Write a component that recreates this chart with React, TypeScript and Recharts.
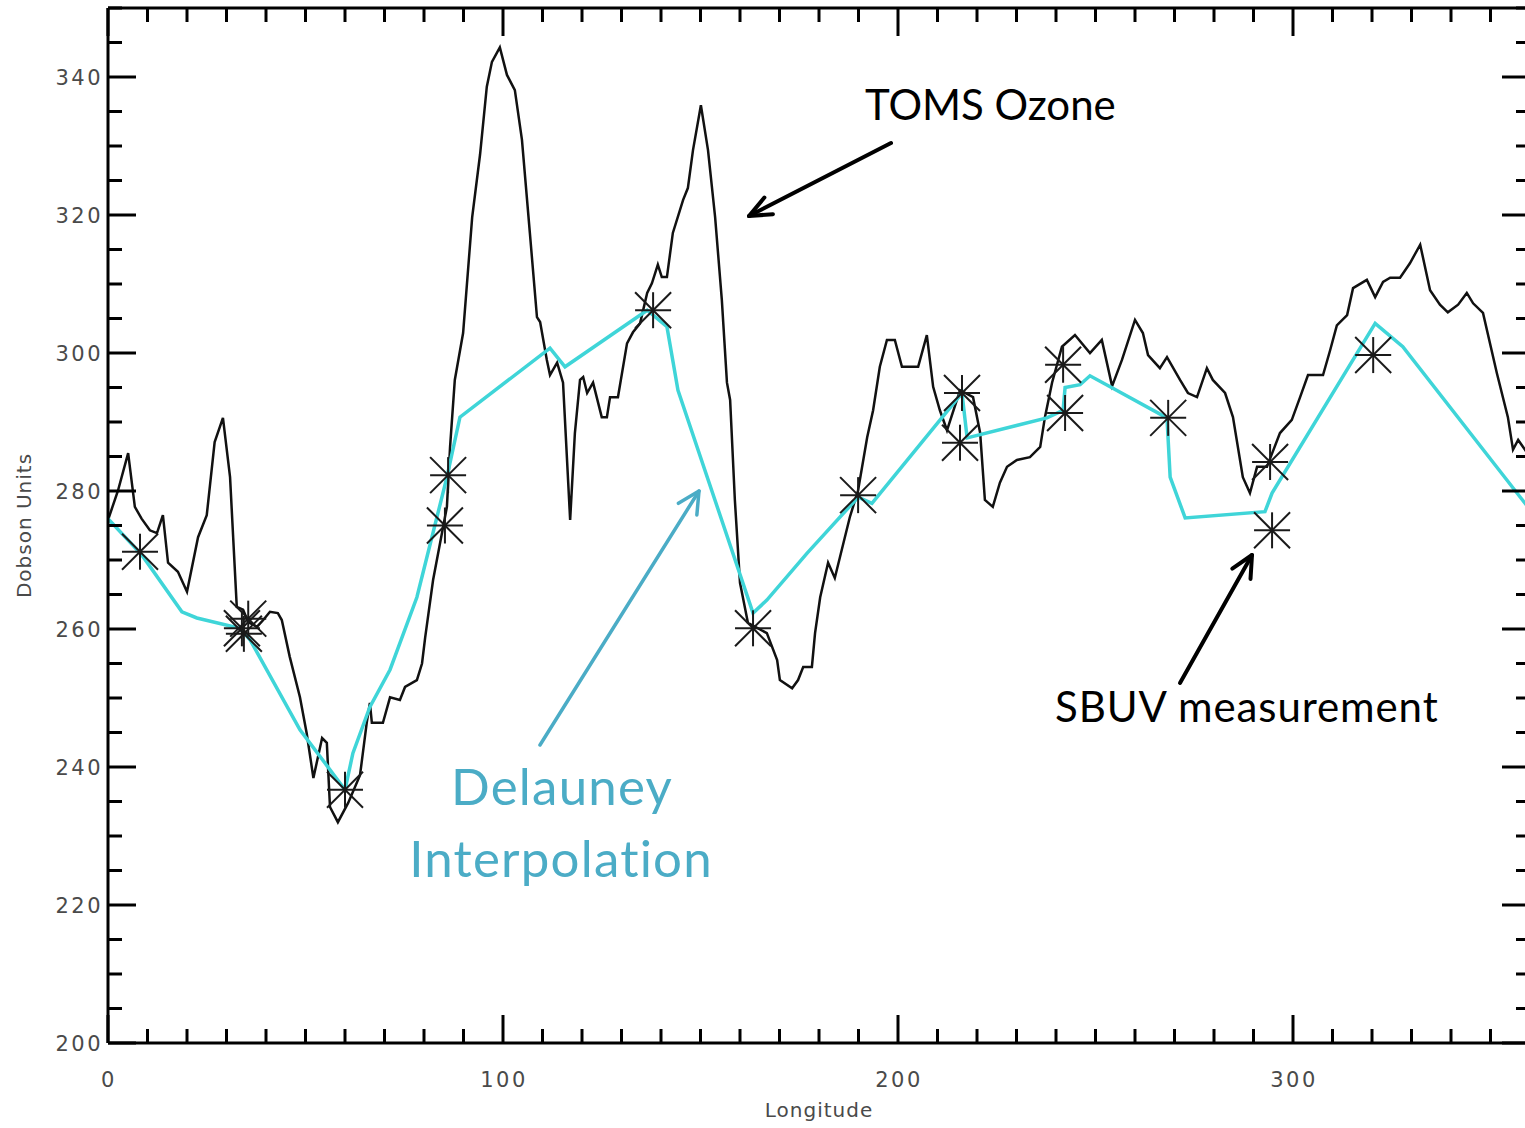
import React from 'react';
import { ComposedChart, Line, Scatter, XAxis, YAxis } from 'recharts';

// TOMS ozone along the orbit track (longitude, Dobson units)
const tomsLongitude = [
  0, 2.5, 5.1, 6.8, 8.5, 10.6, 12.4, 13.9, 15.2, 17.7, 20, 22.8, 25, 27, 29.1, 30.9, 32.6, 34.2, 35.5, 37.7,
  39.3, 41, 43, 44, 46, 48.6, 50.3, 52, 54.2, 55.4, 56.2, 58.2, 60.8, 63.8, 65.5, 66.3, 66.8, 69.6, 71.4, 73.9,
  75.2, 78.2, 79.5, 80.3, 82.3, 85.8, 86.6, 87.8, 89.9, 92.2, 94.2, 95.9, 97.2, 99.2, 101, 103, 104.8, 106.8,
  108.6, 109.4, 111.1, 111.9, 113.7, 115.2, 117, 118.2, 119.5, 120.3, 121.3, 122.8, 125, 126.3, 127.1, 129.1,
  131.4, 132.9, 134.7, 136.5, 137.7, 139.2, 140.2, 141.5, 143, 145.6, 146.8, 148.1, 150.1, 151.9, 153.7, 155.4,
  156.7, 157.5, 158.7, 160, 162, 166.8, 169.4, 170.1, 173.2, 174.7, 176, 178.2, 179, 180.3, 182.3, 184, 185.3,
  187.8, 189.9, 192.2, 193.7, 195.4, 197.2, 199.2, 201, 205.1, 207.3, 208.9, 210.6, 212.4, 215.7, 219, 220.8,
  222, 224, 225.8, 227.6, 230.1, 233.4, 236, 237.2, 239, 241.5, 244.8, 248.6, 251.6, 254.2, 256.7, 260, 262,
  263.3, 266.3, 268.1, 271.4, 273.4, 275.7, 278.2, 279.7, 282.8, 284.8, 287.3, 289.1, 290.9, 293.4, 296.7,
  299.7, 301.8, 303.8, 307.6, 309.4, 311.1, 313.7, 315.2, 318.7, 320.8, 322.8, 324.6, 327.1, 329.6, 332.2,
  334.7, 337.2, 339.2, 341.8, 344, 345.6, 348.1, 351.6, 354.4, 355.7, 357, 358.7, 360,
];
const tomsOzone = [
  275.8, 280, 285.5, 277.7, 276, 274.3, 273.9, 276.5, 269.6, 268.3, 265.4, 273.3, 276.5, 287.1, 290.6, 282, 263.2,
  262.8, 261, 260.3, 261.3, 262.5, 262.3, 261.3, 256, 250.1, 244.9, 238.4, 244.2, 243.5, 234.2, 232, 234.8, 238.8,
  246.4, 249.3, 246.4, 246.4, 250.1, 249.7, 251.6, 252.6, 255, 258.8, 267.1, 277.7, 286.4, 296.1, 302.9, 319.7,
  328.8, 338.6, 342.2, 344.3, 340.3, 338.1, 330.9, 317.4, 305.2, 304.5, 299, 296.8, 298.6, 295.7, 275.8, 288.4,
  296.1, 296.5, 294.2, 295.7, 290.7, 290.7, 293.6, 293.6, 301.4, 303, 304.3, 308.7, 310.1, 312.8, 311, 311,
  317.4, 322.2, 323.9, 329.4, 335.9, 329.4, 319.7, 307.7, 295.7, 293.2, 278.7, 266.7, 260.9, 259.4, 255.5,
  252.6, 251.4, 252.6, 254.5, 254.5, 259.4, 264.6, 269.6, 267.4, 270.4, 276.2, 280.1, 287.8, 291.7, 298, 301.9,
  301.9, 298, 298, 302.6, 295.1, 291.7, 288.8, 294.6, 293.6, 288.4, 278.7, 277.7, 281.2, 283.5, 284.5, 284.9,
  286.4, 290.7, 295.7, 300.9, 302.6, 300, 301.9, 295.2, 299, 304.8, 302.9, 299.7, 297.8, 299.4, 296.1, 294.2,
  293.6, 297.8, 296.1, 294.2, 290.7, 282, 279.7, 283.5, 283.5, 288.4, 290.3, 293.6, 296.8, 296.8, 300.4, 304,
  305.5, 309.4, 310.6, 308.1, 310.3, 310.9, 310.9, 313, 315.7, 309.1, 307, 305.9, 307, 308.7, 307.2, 305.8,
  297.1, 290.7, 286, 287.4, 286, 285,
];

// Delauney interpolation of the SBUV points
const delaunayLongitude = [
  0, 8.6, 18.7, 22.5, 33.4, 36, 48.6, 60, 62, 66.3, 71.4, 78.2, 85.8, 89.1, 111.9, 115.7, 136.5, 141.5, 144.3,
  163.3, 166.8, 177, 189.9, 193.4, 216.2, 217.5, 237.7, 241.8, 242.3, 246.1, 248.6, 253.7, 268.1, 268.9, 272.7,
  292.9, 294.7, 320.8, 327.8, 360,
];
const delaunayOzone = [
  276, 270.7, 262.5, 261.6, 260.1, 258.4, 245.4, 236.7, 242, 248.7, 254.1, 264.6, 282, 290.7, 300.7, 298, 306.2,
  303.8, 294.6, 262.3, 264.2, 271, 279.1, 278.2, 294.2, 287.7, 290.6, 291.7, 295, 295.4, 296.7, 295.1, 290.6,
  282, 276.1, 277, 279.7, 304.3, 300.9, 277.3,
];

// SBUV measurements
const sbuvLongitude = [
  8.1, 33.9, 35.5, 34.4, 60, 86.1, 85.3, 138, 163.3, 189.9, 216.2, 215.7, 241.8, 242.3, 268.4, 294.2, 294.7, 320.3,
];
const sbuvOzone = [
  271.2, 260.1, 261.5, 259.3, 236.7, 282.3, 275, 306.2, 260.1, 279.4, 294.2, 287, 298.3, 291.3, 290.6, 284.2,
  274.3, 299.7,
];

const xTicks = [
  0, 10, 20, 30, 40, 50, 60, 70, 80, 90, 100, 110, 120, 130, 140, 150, 160, 170, 180, 190, 200, 210, 220, 230,
  240, 250, 260, 270, 280, 290, 300, 310, 320, 330, 340, 350, 360,
];
const yTicks = [
  200, 205, 210, 215, 220, 225, 230, 235, 240, 245, 250, 255, 260, 265, 270, 275, 280, 285, 290, 295, 300, 305,
  310, 315, 320, 325, 330, 335, 340, 345, 350,
];
const xLabels = [0, 100, 200, 300];
const yLabels = [200, 220, 240, 260, 280, 300, 320, 340];

const toPoints = (xs: number[], ys: number[]) => xs.map((x, i) => ({ x, y: ys[i] }));

const tomsData = toPoints(tomsLongitude, tomsOzone);
const delaunayData = toPoints(delaunayLongitude, delaunayOzone);
const sbuvData = toPoints(sbuvLongitude, sbuvOzone);

const tickFont: React.CSSProperties = {
  fontFamily: '"DejaVu Sans", sans-serif',
  fontSize: 21,
  fill: '#4a4a4a',
  letterSpacing: 2.5,
};

const BottomTick = ({ x, y, payload }: any) => {
  const v = payload.value;
  const len = v % 100 === 0 ? 28 : 14;
  return (
    <g>
      <line x1={x} y1={y} x2={x} y2={y - len} stroke="#000" strokeWidth={3} />
      {xLabels.includes(v) && (
        <text x={x + 1} y={y + 44} textAnchor="middle" style={tickFont}>
          {v}
        </text>
      )}
    </g>
  );
};

const TopTick = ({ x, y, payload }: any) => {
  const len = payload.value % 100 === 0 ? 28 : 14;
  return <line x1={x} y1={y} x2={x} y2={y + len} stroke="#000" strokeWidth={3} />;
};

const LeftTick = ({ x, y, payload }: any) => {
  const v = payload.value;
  const len = v % 20 === 0 ? 28 : 14;
  return (
    <g>
      <line x1={x} y1={y} x2={x + len} y2={y} stroke="#000" strokeWidth={3} />
      {yLabels.includes(v) && (
        <text x={x - 5} y={y + 8} textAnchor="end" style={tickFont}>
          {v}
        </text>
      )}
    </g>
  );
};

const RightTick = ({ x, y, payload }: any) => {
  const len = payload.value % 20 === 0 ? 28 : 14;
  return <line x1={x} y1={y} x2={x - len} y2={y} stroke="#000" strokeWidth={3} />;
};

const Asterisk = ({ cx, cy }: any) => {
  const r = 18;
  return (
    <g stroke="#1a1a1a" strokeWidth={2}>
      <line x1={cx - r} y1={cy} x2={cx + r} y2={cy} />
      <line x1={cx} y1={cy - r} x2={cx} y2={cy + r} />
      <line x1={cx - r} y1={cy - r} x2={cx + r} y2={cy + r} />
      <line x1={cx - r} y1={cy + r} x2={cx + r} y2={cy - r} />
    </g>
  );
};

const Arrow = ({ from, to, color, width, spread }: any) => {
  const [x1, y1] = from;
  const [x2, y2] = to;
  const a = Math.atan2(y1 - y2, x1 - x2);
  const len = 24;
  const h1 = `${x2 + len * Math.cos(a + spread)},${y2 + len * Math.sin(a + spread)}`;
  const h2 = `${x2 + len * Math.cos(a - spread)},${y2 + len * Math.sin(a - spread)}`;
  return (
    <g stroke={color} strokeWidth={width} fill="none" strokeLinecap="round" strokeLinejoin="round">
      <line x1={x1} y1={y1} x2={x2} y2={y2} />
      <polyline points={`${h1} ${x2},${y2} ${h2}`} />
    </g>
  );
};

const noteFont = '"Lato", "Open Sans", sans-serif';

export default function App() {
  return (
    <div
      style={{
        position: 'absolute',
        left: 0,
        top: 0,
        width: 1525,
        height: 1128,
        overflow: 'hidden',
        background: '#fff',
      }}
    >
      <ComposedChart width={1540} height={1128} margin={{ top: 7, right: 9, bottom: 0, left: 8 }}>
        <XAxis
          dataKey="x"
          type="number"
          domain={[0, 360]}
          ticks={xTicks}
          interval={0}
          allowDataOverflow
          height={85}
          tickSize={0}
          tickMargin={0}
          tickLine={false}
          axisLine={{ stroke: '#000', strokeWidth: 3 }}
          tick={(p: any) => <BottomTick {...p} />}
          label={{
            value: 'Longitude',
            position: 'insideBottom',
            offset: 11,
            style: { fontFamily: '"DejaVu Sans", sans-serif', fontSize: 20, fill: '#4a4a4a', letterSpacing: 1 },
          }}
        />
        <XAxis
          xAxisId="top"
          dataKey="x"
          type="number"
          orientation="top"
          domain={[0, 360]}
          ticks={xTicks}
          interval={0}
          allowDataOverflow
          height={1}
          tickSize={0}
          tickMargin={0}
          tickLine={false}
          axisLine={{ stroke: '#000', strokeWidth: 3 }}
          tick={(p: any) => <TopTick {...p} />}
        />
        <YAxis
          type="number"
          domain={[200, 350]}
          ticks={yTicks}
          interval={0}
          allowDataOverflow
          width={100}
          tickSize={0}
          tickMargin={0}
          tickLine={false}
          axisLine={{ stroke: '#000', strokeWidth: 3 }}
          tick={(p: any) => <LeftTick {...p} />}
          label={{
            value: 'Dobson Units',
            angle: -90,
            position: 'insideLeft',
            offset: 16,
            style: {
              textAnchor: 'middle',
              fontFamily: '"DejaVu Sans", sans-serif',
              fontSize: 20,
              fill: '#4a4a4a',
              letterSpacing: 1,
            },
          }}
        />
        <YAxis
          yAxisId="right"
          type="number"
          orientation="right"
          domain={[200, 350]}
          ticks={yTicks}
          interval={0}
          allowDataOverflow
          width={1}
          tickSize={0}
          tickMargin={0}
          tickLine={false}
          axisLine={{ stroke: '#000', strokeWidth: 3 }}
          tick={(p: any) => <RightTick {...p} />}
        />
        <Line
          data={tomsData}
          dataKey="y"
          type="linear"
          stroke="#111"
          strokeWidth={2.5}
          dot={false}
          isAnimationActive={false}
        />
        <Line
          data={delaunayData}
          dataKey="y"
          type="linear"
          stroke="#3fd5d8"
          strokeWidth={3.5}
          dot={false}
          isAnimationActive={false}
        />
        {/* the mirrored top/right axes share the same domains, so the stars sit on them */}
        <Scatter
          data={sbuvData}
          dataKey="y"
          xAxisId="top"
          yAxisId="right"
          shape={(p: any) => <Asterisk {...p} />}
          isAnimationActive={false}
        />
      </ComposedChart>
      <svg
        width={1525}
        height={1128}
        style={{ position: 'absolute', left: 0, top: 0, pointerEvents: 'none' }}
      >
        <text x={865} y={120} style={{ fontFamily: noteFont, fontSize: 42, fill: '#000' }}>
          TOMS Ozone
        </text>
        <Arrow from={[891, 143]} to={[749, 216]} color="#000" width={4} spread={0.4} />
        <text
          x={562}
          y={805}
          textAnchor="middle"
          style={{ fontFamily: noteFont, fontSize: 51, letterSpacing: 1.2, fill: '#4bacc6' }}
        >
          Delauney
        </text>
        <text
          x={561}
          y={877}
          textAnchor="middle"
          style={{ fontFamily: noteFont, fontSize: 51, letterSpacing: 1.2, fill: '#4bacc6' }}
        >
          Interpolation
        </text>
        <Arrow from={[540, 745]} to={[699, 491]} color="#4bacc6" width={3.5} spread={0.47} />
        <text x={1055} y={722} style={{ fontFamily: noteFont, fontSize: 42, letterSpacing: 0.9, fill: '#000' }}>
          SBUV measurement
        </text>
        <Arrow from={[1180, 683]} to={[1252, 555]} color="#000" width={4} spread={0.45} />
      </svg>
    </div>
  );
}
